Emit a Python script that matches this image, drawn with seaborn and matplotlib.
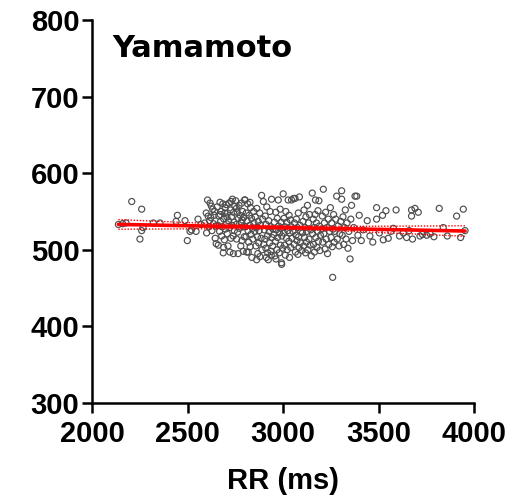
import numpy as np
import pandas as pd
import matplotlib
matplotlib.use("Agg")
import matplotlib.pyplot as plt
import seaborn as sns

# (RR ms, value) pairs
points = [
    # left sparse
    (2138,533),(2160,534),(2178,535),(2208,563),(2260,553),(2260,525),(2267,529),(2251,514),
    (2321,535),(2356,535),(2440,537),(2447,545),(2487,538),(2499,512),(2513,524),(2521,526),
    (2545,524),(2555,540),(2570,533),
    # 2580-2650
    (2590,535),(2598,548),(2605,565),(2612,530),(2618,561),(2622,542),(2628,525),(2632,553),
    (2636,534),(2640,545),(2645,515),(2648,531),(2600,522),(2615,538),(2625,557),(2642,550),
    (2650,508),(2608,544),
    # 2650-2700
    (2655,556),(2658,532),(2661,506),(2664,544),(2668,524),(2670,562),(2673,537),(2676,550),
    (2679,518),(2682,530),(2685,560),(2687,496),(2690,540),(2693,513),(2695,548),(2698,527),
    (2672,546),(2697,555),(2689,503),
    # 2700-2750
    (2703,559),(2705,534),(2708,521),(2710,548),(2712,505),(2715,538),(2718,561),(2720,529),
    (2722,497),(2725,552),(2727,515),(2730,543),(2732,532),(2735,566),(2739,518),(2741,549),
    (2743,536),(2745,525),(2748,557),(2706,543),(2728,563),(2740,495),
    # 2750-2800
    (2752,564),(2755,533),(2757,514),(2760,549),(2762,523),(2765,495),(2767,541),(2770,558),
    (2772,528),(2776,545),(2779,505),(2781,536),(2783,561),(2785,512),(2788,550),(2790,530),
    (2792,498),(2794,542),(2797,517),(2799,565),(2756,554),(2786,539),
    # 2800-2850
    (2801,565),(2803,530),(2806,517),(2808,548),(2810,497),(2812,538),(2815,560),(2817,525),
    (2818,497),(2820,510),(2823,545),(2826,532),(2828,504),(2830,555),(2832,520),(2835,541),
    (2837,490),(2840,528),(2842,514),(2846,550),(2848,535),(2827,562),
    # 2850-2900
    (2852,524),(2855,543),(2858,505),(2860,529),(2863,554),(2866,517),(2868,495),(2870,537),
    (2873,509),(2875,525),(2878,548),(2879,491),(2882,532),(2885,515),(2888,571),(2890,500),
    (2893,540),(2897,563),(2899,507),(2862,487),
    # 2900-2950
    (2902,526),(2905,514),(2907,544),(2910,502),(2912,533),(2915,556),(2918,518),(2920,496),
    (2923,487),(2925,538),(2928,524),(2930,509),(2932,550),(2935,530),(2937,498),(2940,566),
    (2942,516),(2946,505),(2948,527),(2913,490),(2938,493),
    # 2950-3000
    (2952,520),(2955,536),(2958,492),(2960,511),(2962,549),(2965,526),(2968,500),(2970,541),
    (2972,516),(2975,565),(2977,531),(2980,496),(2982,522),(2985,553),(2987,506),(2990,536),
    (2992,483),(2994,518),(2998,502),(2963,488),(2988,528),
    # 3000-3050
    (3001,573),(3003,522),(3005,541),(3008,506),(3010,530),(3012,493),(3015,550),(3018,515),
    (3020,536),(3022,500),(3025,525),(3027,565),(3030,511),(3032,545),(3034,490),(3036,522),
    (3039,539),(3041,503),(3044,530),(3045,565),(3047,515),(2993,481),
    # 3050-3100
    (3052,524),(3055,567),(3058,507),(3060,535),(3063,567),(3065,497),(3068,519),(3070,540),
    (3073,512),(3075,529),(3078,494),(3080,548),(3082,517),(3084,503),(3086,569),(3089,532),
    (3091,509),(3093,524),(3098,499),
    # 3100-3150
    (3102,522),(3105,537),(3108,505),(3110,552),(3113,516),(3115,529),(3118,496),(3120,543),
    (3123,510),(3125,524),(3128,558),(3130,500),(3133,535),(3136,514),(3139,546),(3142,506),
    (3145,526),(3148,492),
    # 3150-3200
    (3153,574),(3155,521),(3158,540),(3160,507),(3163,529),(3165,497),(3168,546),(3170,565),
    (3172,516),(3175,535),(3178,503),(3180,524),(3183,551),(3185,511),(3188,564),(3190,531),
    (3193,499),(3196,519),
    # 3200-3250
    (3203,527),(3206,544),(3208,510),(3211,579),(3214,521),(3217,535),(3220,501),(3223,549),
    (3226,514),(3230,529),(3233,495),(3237,540),(3240,507),(3244,524),(3248,555),
    # 3250-3300
    (3252,516),(3255,535),(3258,504),(3260,464),(3262,527),(3265,546),(3268,510),(3272,524),
    (3276,540),(3281,570),(3284,514),(3288,531),(3293,505),(3297,521),
    # 3300-3400
    (3302,537),(3307,577),(3307,566),(3310,519),(3314,543),(3318,507),(3322,529),(3326,552),
    (3330,514),(3335,535),(3340,502),(3345,524),(3351,488),(3355,540),(3359,558),(3364,512),
    (3370,529),(3377,570),(3386,570),(3392,519),(3399,545),
    # right sparse
    (3410,512),(3420,526),(3441,538),(3455,518),(3470,510),(3490,555),(3490,540),(3505,522),
    (3521,545),(3525,513),(3539,551),(3551,515),(3565,524),(3578,528),(3592,552),(3610,518),
    (3630,522),(3647,516),(3660,525),(3673,552),(3673,544),(3678,514),(3691,554),(3708,549),
    (3717,518),(3730,520),(3752,519),(3770,521),(3790,517),(3818,554),(3839,529),(3860,518),
    (3909,544),(3930,516),(3944,553),(3953,525),
]
rr_ms = [p[0] for p in points]
qt_ms = [p[1] for p in points]

x_ticks = [2000, 2500, 3000, 3500, 4000]
y_ticks = [300, 400, 500, 600, 700, 800]
title_text = "Yamamoto"
x_label = "RR (ms)"

df = pd.DataFrame({"RR": rr_ms, "QT": qt_ms})

# linear fit and 95% confidence band
x = df["RR"].to_numpy(float)
y = df["QT"].to_numpy(float)
n = len(x)
b, a = np.polyfit(x, y, 1)
resid = y - (a + b * x)
s = np.sqrt(np.sum(resid ** 2) / (n - 2))
xs = np.linspace(x.min(), x.max(), 100)
se = s * np.sqrt(1 / n + (xs - x.mean()) ** 2 / np.sum((x - x.mean()) ** 2))
fit = pd.DataFrame({"RR": xs, "fit": a + b * xs,
                    "lo": a + b * xs - 1.97 * se, "hi": a + b * xs + 1.97 * se})

sns.set_style("ticks")
plt.rcParams["font.family"] = ["Liberation Sans", "DejaVu Sans"]
plt.rcParams["text.color"] = "black"
tick_font = dict(fontsize=21, fontweight="bold", color="black",
                 family=["Liberation Sans", "DejaVu Sans"])

fig = plt.figure(figsize=(5.21, 4.99), dpi=100)
ax = fig.add_axes([0.1766, 0.1924, 0.7332, 0.7676])

sns.scatterplot(data=df, x="RR", y="QT", ax=ax, marker="o", s=19,
                facecolor="none", edgecolor="#4d4d4d", linewidth=0.85, zorder=2)
sns.lineplot(data=fit, x="RR", y="fit", ax=ax, color="#ff0000", linewidth=2.6, zorder=4)
sns.lineplot(data=fit, x="RR", y="lo", ax=ax, color="#ff0000", linewidth=1.0,
             linestyle=(0, (1, 1.2)), zorder=3)
sns.lineplot(data=fit, x="RR", y="hi", ax=ax, color="#ff0000", linewidth=1.0,
             linestyle=(0, (1, 1.2)), zorder=3)

ax.set_xlim(2000, 4000)
ax.set_ylim(300, 800)
ax.set_xticks(x_ticks)
ax.set_yticks(y_ticks)
ax.set_xticklabels([str(t) for t in x_ticks], **tick_font)
ax.set_yticklabels([str(t) for t in y_ticks], **tick_font)
ax.set_xlabel(x_label, labelpad=14, **tick_font)
ax.set_ylabel("")
sns.despine(ax=ax)
for sp in ["left", "bottom"]:
    ax.spines[sp].set_linewidth(1.8)
    ax.spines[sp].set_color("black")
ax.tick_params(axis="both", length=7, width=1.8, color="black", labelcolor="black")
ax.tick_params(axis="x", pad=5)
ax.tick_params(axis="y", pad=2)

ax.text(0.052, 0.903, title_text, transform=ax.transAxes, fontsize=22,
        fontweight="bold", family=["DejaVu Sans"], color="black",
        va="baseline", ha="left")

fig.savefig("out.png", dpi=100)
